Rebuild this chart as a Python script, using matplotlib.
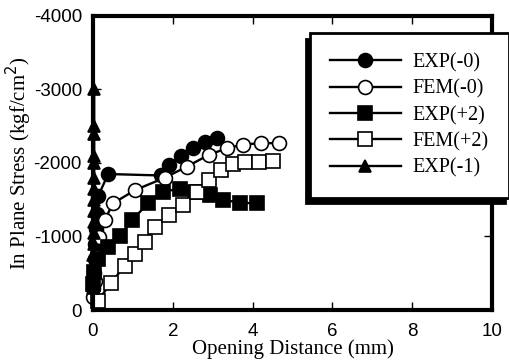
import matplotlib
matplotlib.use("Agg")
import matplotlib.pyplot as plt

plt.rcParams["axes.unicode_minus"] = False

# opening distance (mm) and in-plane stress (kgf/cm^2)
exp0_x = [0.0, 0.02, 0.04, 0.06, 0.08, 0.1, 0.13, 0.38, 1.7, 1.9, 2.2, 2.5, 2.8, 3.1]
exp0_y = [-300, -500, -700, -900, -1100, -1300, -1550, -1850, -1830, -1970, -2100, -2200, -2280, -2340]

fem0_x = [0.0, 0.05, 0.1, 0.15, 0.3, 0.5, 1.05, 1.8, 2.35, 2.9, 3.35, 3.75, 4.2, 4.65]
fem0_y = [-180, -400, -720, -990, -1230, -1450, -1630, -1800, -1950, -2110, -2200, -2250, -2270, -2270]

exp2_x = [0.0, 0.02, 0.13, 0.38, 0.68, 0.97, 1.38, 1.76, 2.18, 2.55, 2.93, 3.25, 3.68, 4.1]
exp2_y = [-350, -520, -700, -860, -1000, -1220, -1450, -1610, -1650, -1600, -1560, -1500, -1460, -1450]

fem2_x = [0.12, 0.45, 0.8, 1.05, 1.3, 1.55, 1.9, 2.25, 2.6, 2.9, 3.2, 3.5, 3.8, 4.15, 4.5]
fem2_y = [-120, -370, -600, -760, -920, -1130, -1290, -1430, -1610, -1770, -1900, -1980, -2010, -2020, -2030]

expm1_x = [0.0, 0.0, 0.01, 0.01, 0.02, 0.02, 0.02, 0.03, 0.03, 0.03, 0.03, 0.03, 0.03, 0.03, 0.03, 0.03]
expm1_y = [-300, -450, -600, -750, -900, -1050, -1200, -1350, -1500, -1650, -1800, -2000, -2100, -2400, -2500, -3000]

series = [
    ("EXP(-0)", exp0_x, exp0_y, "o", "black"),
    ("FEM(-0)", fem0_x, fem0_y, "o", "white"),
    ("EXP(+2)", exp2_x, exp2_y, "s", "black"),
    ("FEM(+2)", fem2_x, fem2_y, "s", "white"),
    ("EXP(-1)", expm1_x, expm1_y, "^", "black"),
]
sizes = {"o": 10, "s": 10, "^": 8}

fig = plt.figure(figsize=(5.09, 3.63), dpi=100)
ax = fig.add_axes([0.1827, 0.146, 0.784, 0.810])

for label, x, y, m, fc in series:
    ax.plot(x, y, color="black", lw=1.7, marker=m, ms=sizes[m],
            mfc=fc, mec="black", mew=1.2, label=label, clip_on=False)

ax.set_xlim(0, 10)
ax.set_ylim(0, -4000)
ax.set_xticks([0, 2, 4, 6, 8, 10])
ax.set_yticks([0, -1000, -2000, -3000, -4000])
ax.tick_params(direction="in", top=True, right=True, length=6, width=1,
               labelsize=13.5, pad=8)
ax.tick_params(axis="x", pad=9)
for lbl in ax.get_xticklabels() + ax.get_yticklabels():
    lbl.set_family("Liberation Sans")
for sp in ax.spines.values():
    sp.set_linewidth(3)

ax.set_xlabel("Opening Distance (mm)", family="Liberation Serif", fontsize=15, labelpad=0)
ax.set_ylabel("In Plane Stress (kgf/cm$^2$)", family="Liberation Serif", fontsize=15, labelpad=0)

leg = ax.legend(loc="upper left", bbox_to_anchor=(310 / 509, 1 - 33 / 363),
                bbox_transform=fig.transFigure, fancybox=False,
                shadow={"ox": -3, "oy": -4, "facecolor": "black", "edgecolor": "black", "alpha": 1},
                prop={"family": "Liberation Serif", "size": 14.5},
                handlelength=3.5, labelspacing=0.35, borderpad=1.0,
                handletextpad=0.6, borderaxespad=0, framealpha=1)
leg.get_frame().set_edgecolor("black")
leg.get_frame().set_linewidth(2)

fig.savefig("out.png", dpi=100)
